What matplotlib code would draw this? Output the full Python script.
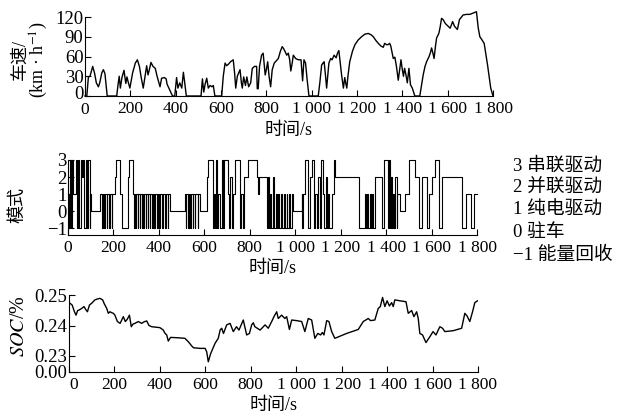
import numpy as np
import matplotlib
matplotlib.use("Agg")
import matplotlib.pyplot as plt
import matplotlib.transforms as mtransforms

plt.rcParams['font.family'] = ['Liberation Serif', 'Noto Sans CJK SC']
plt.rcParams['mathtext.fontset'] = 'stix'
plt.rcParams['axes.unicode_minus'] = True

# vehicle speed, km/h
speed_t = [0, 8, 15, 22, 34, 42, 50, 59, 65, 74, 81, 88, 98, 140, 146, 151, 156, 163, 172, 180,
           185, 190, 198, 210, 222, 231, 240, 248, 257, 265, 272, 278, 284, 291, 300, 310, 318, 326,
           331, 338, 350, 358, 362, 370, 378, 386, 396, 404, 410, 418, 427, 434, 440, 447, 512, 518,
           524, 530, 537, 544, 552, 560, 566, 573, 603, 610, 618, 625, 632, 642, 654, 660, 665, 672,
           684, 690, 694, 700, 708, 714, 722, 731, 738, 748, 757, 760, 764, 770, 779, 786, 790, 795,
           800, 806, 812, 819, 826, 835, 853, 862, 870, 876, 882, 890, 897, 903, 908, 914, 919, 929,
           941, 953, 960, 966, 973, 980, 988, 1029, 1036, 1044, 1050, 1055, 1060, 1066, 1072, 1076,
           1084, 1090, 1099, 1108, 1114, 1120, 1126, 1132, 1140, 1146, 1150, 1155, 1160, 1168, 1180,
           1191, 1205, 1220, 1235, 1250, 1262, 1272, 1284, 1294, 1305, 1316, 1322, 1330, 1337, 1344,
           1349, 1356, 1360, 1367, 1374, 1382, 1388, 1394, 1400, 1405, 1410, 1416, 1422, 1429, 1436,
           1444, 1455, 1477, 1484, 1492, 1500, 1507, 1518, 1524, 1529, 1535, 1540, 1546, 1551, 1561,
           1567, 1573, 1580, 1590, 1602, 1611, 1622, 1630, 1638, 1643, 1652, 1668, 1683, 1698, 1712,
           1727, 1731, 1735, 1742, 1750, 1761, 1776, 1790, 1800]
speed_v = [0, 0, 29, 30, 45, 35, 20, 14, 20, 35, 40, 34, 0, 0, 18, 30, 12, 28, 39, 19,
           29, 22, 12, 35, 50, 55, 45, 28, 12, 30, 46, 32, 40, 51, 45, 42, 30, 20,
           14, 27, 28, 26, 18, 12, 6, 0, 0, 28, 12, 20, 12, 36, 20, 0, 0, 26,
           6, 18, 27, 12, 16, 14, 16, 0, 0, 30, 50, 46, 48, 52, 55, 35, 12, 30,
           40, 20, 12, 29, 16, 29, 14, 20, 42, 45, 45, 11, 11, 45, 62, 65, 50, 32,
           40, 52, 30, 14, 40, 50, 57, 68, 75, 72, 68, 62, 65, 55, 38, 50, 62, 57,
           55, 55, 23, 55, 50, 25, 0, 0, 20, 47, 50, 52, 35, 12, 35, 50,
           57, 55, 62, 58, 65, 69, 50, 32, 12, 28, 20, 12, 30, 52, 68,
           78, 85, 90, 94, 95, 93, 90, 84, 80, 76, 74, 80, 78, 78, 80,
           76, 64, 57, 59, 45, 24, 40, 55, 40, 30, 42, 32, 20, 42, 17,
           12, 0, 0, 15, 32, 45, 52, 60, 66, 73, 65, 57, 75, 88, 95,
           105, 118, 116, 110, 106, 103, 113, 106, 103, 101, 116, 123, 124, 124, 126,
           128, 115, 103, 90, 86, 80, 47, 12, 0]

# operating mode (step changes)
mode_t = [0, 4, 8, 12, 17, 22, 36, 40, 45, 50, 56, 60, 66, 70, 80, 85, 90, 95, 99, 103,
          140, 150, 153, 160, 163, 170, 173, 180, 183, 192, 195, 206, 210, 228, 236, 262, 266, 270,
          286, 290, 293, 298, 301, 306, 309, 316, 319, 324, 327, 332, 335, 342, 345, 350, 353,
          360, 363, 370, 373, 380, 384, 392, 395, 402, 405, 414, 417, 426, 430, 438, 441, 448,
          514, 518, 521, 528, 531, 538, 541, 548, 551, 558, 561, 570, 573, 580,
          610, 617, 639, 644, 648, 652, 656, 662, 668, 676, 684, 688, 705, 710, 714, 720, 726, 734,
          756, 762, 768, 776, 793, 830, 836, 840, 874, 879, 884, 890, 895, 902, 906, 914,
          918, 926, 930, 938, 942, 950, 954, 962, 966, 974, 978, 984, 991,
          1028, 1032, 1036, 1043, 1058, 1064, 1076, 1084, 1089, 1096, 1101, 1108, 1113,
          1122, 1127, 1134, 1139, 1143, 1147, 1162, 1169, 1176, 1279,
          1308, 1312, 1318, 1322, 1328, 1332, 1338, 1342, 1352, 1381, 1389, 1407, 1411,
          1416, 1420, 1426, 1430, 1436, 1440, 1446, 1450, 1462, 1485, 1500, 1529, 1543,
          1558, 1580, 1590, 1600, 1617, 1632, 1647, 1735, 1750, 1772, 1787, 1800]
mode_v = [1, -1, 3, -1, 3, 1, 3, -1, 3, -1, 3, 2, 3, -1, 3, -1, 3, -1, 1, 0,
          1, -1, 1, -1, 1, -1, 1, -1, 1, -1, 1, 2, 3, 1, -1, 1, 2, 3,
          1, -1, 1, -1, 1, -1, 1, -1, 1, -1, 1, -1, 1, -1, 1, -1, 1,
          -1, 1, -1, 1, -1, 1, -1, 1, -1, 1, -1, 1, -1, 1, -1, 1, 0,
          1, -1, 1, -1, 1, -1, 1, -1, 1, -1, 1, -1, 1, 0,
          2, 3, -1, 1, -1, 3, -1, 1, -1, 3, -1, 3, 1, -1, 2, -1, 1, 3,
          -1, 1, -1, 2, 3, 2, 1, 2, -1, 2, -1, 1, -1, 2, -1, 1,
          -1, 1, -1, 1, -1, 1, -1, 1, -1, 1, -1, 1, 0,
          1, -1, 1, 3, -1, 2, 3, -1, 1, -1, 2, -1, 3,
          1, -1, 2, -1, 1, -1, 1, 3, 2, -1,
          1, -1, 1, -1, 1, -1, 1, -1, 2, -1, 3, -1, 3,
          -1, 2, -1, 1, -1, 2, -1, 1, 0, 1, 3, 2, -1,
          2, -1, 1, 2, 3, -1, 2, -1, 1, -1, 1, 1]

# battery SOC
soc_t = [0, 4, 14, 24, 31, 38, 45, 56, 66, 74, 81, 90, 100, 114, 125, 136, 148, 156, 166, 173,
         180, 188, 195, 202, 213, 225, 232, 239, 248, 256, 266, 274, 282, 290, 305, 320, 330, 342,
         352, 364, 386, 400, 415, 422, 430, 437, 447, 474, 510, 525, 540, 548, 577, 599, 606, 613,
         623, 643, 657, 665, 672, 680, 694, 709, 723, 737, 748, 767, 782, 794, 804, 811, 818, 841,
         863, 877, 892, 902, 914, 921, 936, 950, 958, 970, 980, 1002, 1024, 1038, 1053, 1068, 1082,
         1095, 1107, 1115, 1122, 1134, 1144, 1156, 1170, 1222, 1273, 1295, 1317, 1327, 1346, 1361,
         1370, 1380, 1390, 1400, 1410, 1420, 1427, 1434, 1456, 1483, 1493, 1508, 1518, 1530, 1537,
         1544, 1556, 1571, 1588, 1602, 1615, 1632, 1644, 1654, 1691, 1728, 1742, 1752, 1764, 1776,
         1786, 1798]
soc_v = [0.2476, 0.2473, 0.2467, 0.2445, 0.2434, 0.2449, 0.2451, 0.2456, 0.2462, 0.2452, 0.2445,
         0.2467, 0.2473, 0.2484, 0.2487, 0.2489, 0.2484, 0.2470, 0.2456, 0.2440, 0.2445, 0.2442,
         0.2440, 0.2434, 0.2413, 0.2407, 0.2418, 0.2429, 0.2413, 0.2420, 0.2434, 0.2396, 0.2405,
         0.2407, 0.2413, 0.2407, 0.2412, 0.2415, 0.2400, 0.2396, 0.2394, 0.2393, 0.2385, 0.2375,
         0.2369, 0.2349, 0.2361, 0.2360, 0.2358, 0.2347, 0.2333, 0.2327, 0.2325, 0.2325, 0.2314,
         0.2281, 0.2307, 0.2342, 0.2358, 0.2385, 0.2391, 0.2374, 0.2402, 0.2407, 0.2380, 0.2396,
         0.2385, 0.2418, 0.2369, 0.2374, 0.2402, 0.2409, 0.2396, 0.2385, 0.2402, 0.2391, 0.2413,
         0.2429, 0.2445, 0.2423, 0.2434, 0.2423, 0.2429, 0.2387, 0.2418, 0.2416, 0.2413, 0.2380,
         0.2423, 0.2418, 0.2358, 0.2374, 0.2369, 0.2377, 0.2369, 0.2416, 0.2413, 0.2380, 0.2358,
         0.2374, 0.2387, 0.2413, 0.2423, 0.2416, 0.2418, 0.2456, 0.2462, 0.2492, 0.2462, 0.2481,
         0.2464, 0.2475, 0.2462, 0.2484, 0.2481, 0.2478, 0.2440, 0.2449, 0.2429, 0.2445, 0.2423,
         0.2374, 0.2369, 0.2344, 0.2363, 0.2380, 0.2369, 0.2396, 0.2391, 0.2380, 0.2383, 0.2391,
         0.2440, 0.2431, 0.2413, 0.2445, 0.2475, 0.2481]

time_ticks = [0, 200, 400, 600, 800, 1000, 1200, 1400, 1600, 1800]
mode_ticks = [-1, 0, 1, 2, 3]
soc_ticks = [0.23, 0.24, 0.25]
legend_lines = ["3 串联驱动", "2 并联驱动", "1 纯电驱动", "0 驻车", "\u22121 能量回收"]

W, H = 618, 417
fig = plt.figure(figsize=(W / 100, H / 100), dpi=100)


def box(x0, x1, ytop, ybot):
    return [x0 / W, 1 - ybot / H, (x1 - x0) / W, (ybot - ytop) / H]


def style(ax):
    for s in ['top', 'right']:
        ax.spines[s].set_visible(False)
    ax.tick_params(direction='in', length=4, width=0.8, labelsize=12.5, pad=3.5)
    ax.tick_params(axis='y', labelsize=13.5, pad=1)
    ax.set_xlim(0, 1800)
    ax.set_xticks(time_ticks)
    ax.set_xticklabels([f"{v:,}".replace(",", " ") for v in time_ticks])
    ax.set_xlabel("时间/s", fontsize=13, labelpad=3)


def nudge(label, dx, dy):
    # shift a single tick label by (dx, dy) points
    label.set_transform(label.get_transform() +
                        mtransforms.ScaledTranslation(dx / 72, dy / 72, fig.dpi_scale_trans))


ax1 = fig.add_axes(box(85, 493, 17, 96))
ax1.plot(speed_t, speed_v, color='k', lw=1.0, clip_on=False)
style(ax1)
ax1.set_ylim(0, 120)
ax1.set_yticks([0, 30, 60, 90, 120])
nudge(ax1.get_yticklabels()[0], 0, 2.5)
nudge(ax1.get_xticklabels()[0], 0, -1)
fig.text(31 / W, 1 - 60 / H, "车速/\n(km · h$^{-1}$)", rotation=90, ha='center', va='center',
         fontsize=13, linespacing=0.95, multialignment='center')

ax2 = fig.add_axes(box(68, 477, 160, 235))
ax2.step(mode_t, mode_v, where='post', color='k', lw=0.8, clip_on=False)
style(ax2)
ax2.set_ylim(-1.4, 3.0)
ax2.set_yticks(mode_ticks)
fig.text(18 / W, 1 - 205 / H, "模式", rotation=90, ha='center', va='center', fontsize=13)
for i, s in enumerate(legend_lines):
    fig.text(513 / W, 1 - (166 + 22.3 * i) / H, s, ha='left', va='center', fontsize=13.5)

ax3 = fig.add_axes(box(69, 478, 295, 372))
ax3.plot(soc_t, soc_v, color='k', lw=1.0)
style(ax3)
soc_bottom = 0.23 - 16 / 30.5 * 0.01
ax3.set_ylim(soc_bottom, 0.25)
ax3.set_yticks([soc_bottom] + soc_ticks)
ax3.set_yticklabels(["0.00"] + [f"{v:.2f}" for v in soc_ticks])
nudge(ax3.get_xticklabels()[0], 3.5, 0)
fig.text(19 / W, 1 - 326 / H, "$SOC$/%", rotation=90, ha='center', va='center', fontsize=14.5)

fig.savefig("out.png", dpi=100)
